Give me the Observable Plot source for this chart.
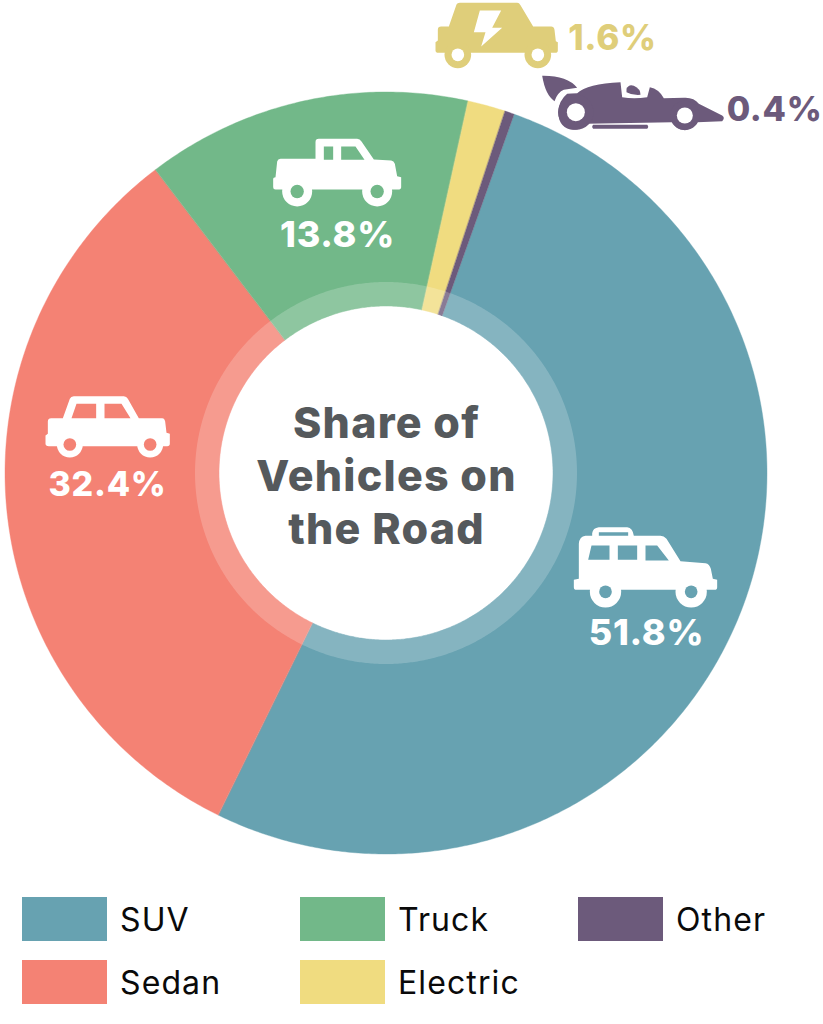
<!DOCTYPE html>
<html>
<head>
<meta charset="utf-8">
<script src="https://cdn.jsdelivr.net/npm/d3@7"></script>
<script src="https://cdn.jsdelivr.net/npm/@observablehq/plot@0.6"></script>
<style>
  html, body { margin: 0; background: #fff; }
  #chart svg { display: block; }
  .title text { letter-spacing: 1.2px; }
  .pct text { letter-spacing: 0.7px; }
  #legend { display: grid; grid-template-columns: repeat(3, 278px); grid-auto-rows: 63px; padding: 17px 0 0 22px; font: 400 32px Inter, sans-serif; color: #0a0a0a; letter-spacing: 1.1px; }
  .item { display: flex; align-items: flex-start; }
  .sw { width: 85px; height: 44px; margin-right: 13px; flex: none; }
  .item span { line-height: 46px; }
</style>
</head>
<body>
<div id="chart"></div>
<div id="legend"></div>
<script>
// ---- data ----
const categories = ["SUV", "Sedan", "Truck", "Electric", "Other"];
const shares = [51.8, 32.4, 13.8, 1.6, 0.4];
const colors = ["#67a2b1", "#f48274", "#72b889", "#f0dc80", "#6c5a7b"];
const titleLines = ["Share of", "Vehicles on", "the Road"];
const legendOrder = ["SUV", "Truck", "Other", "Sedan", "Electric"];

// ---- layout (pixel frame of the picture) ----
const W = 823, H = 880;
const cx = 386, cy = 473, R = 381, ringR = 191, holeR = 167, startDeg = 19.65;
const px = (x) => (x - cx) / R;
const py = (y) => (cy - y) / R;

// ---- icons ----
const wrap = (vb, w, h, body) =>
  "data:image/svg+xml," + encodeURIComponent(`<svg xmlns="http://www.w3.org/2000/svg" width="${w}" height="${h}" viewBox="${vb}">${body}</svg>`);
const wheel = (x, y, r, hole, f, bg) => `<circle cx="${x}" cy="${y}" r="${r}" fill="${f}"/><circle cx="${x}" cy="${y}" r="${hole}" fill="${bg}"/>`;
const pathOf = (d, f) => `<path d="${d}" fill="${f}"/>`;

const truckIcon = (bg) => wrap("0 0 450 390", 150, 130,
  pathOf("M45 155L50 108Q52 100 60 100L165 100L165 50Q165 40 175 40L290 40Q298 40 303 48L340 102L392 105Q400 106 403 115L410 152L422 155L422 185Q422 192 412 192L45 192Q38 192 38 185L38 160Q38 156 45 155Z", "#fff")
  + pathOf("M190 63H218V103H190ZM242 63H285L312 103H242Z", bg)
  + wheel(110, 198, 45, 20, "#fff", bg) + wheel(350, 198, 45, 20, "#fff", bg));

const sedanIcon = (bg) => wrap("0 0 450 360", 150, 120,
  pathOf("M52 145L52 108Q52 98 62 98L97 98L118 40Q121 32 130 32L280 32Q288 32 292 40L325 98L395 98Q402 98 404 108L408 142L418 145L418 175Q418 182 410 182L55 182Q45 182 45 175L45 150Z", "#fff")
  + pathOf("M138 55H197V98H123ZM222 55H273L300 98H222Z", bg)
  + wheel(118, 177, 39, 19, "#fff", bg) + wheel(359, 177, 39, 19, "#fff", bg));

const suvIcon = (bg) => wrap("0 0 480 405", 160, 135,
  pathOf("M40 175L40 70Q42 48 60 46L80 46L80 38Q82 22 100 20L185 20Q202 22 205 46L285 46Q295 46 303 55L345 122L420 128Q432 130 436 145L442 175L455 178L455 200Q455 208 447 208L33 208Q25 208 25 200L25 178Z", "#fff")
  + pathOf("M100 35H188V46H100ZM78 75H132V118H68ZM157 75H215V118H157ZM240 75H275L310 120H240Z", bg)
  + wheel(120, 214, 47, 19, "#fff", bg) + wheel(377, 214, 47, 19, "#fff", bg));

const electricIcon = (fg) => wrap("0 0 420 210", 140, 70,
  pathOf("M52 120L52 88Q52 78 62 78L85 78L108 12Q110 7 118 7L290 7Q296 7 300 14L338 78L392 78Q400 78 402 88L406 122L412 125L412 150Q412 157 404 157L50 157Q45 155 45 150L45 125Z", fg)
  + pathOf("M178 30H242L215 82H245L182 138L195 95H160Z", "#fff")
  + wheel(112, 163, 40, 19, fg, "#fff") + wheel(352, 163, 40, 19, fg, "#fff"));

const raceIcon = (fg) => wrap("345 210 600 195", 200, 65,
  pathOf("M365 226Q440 225 470 262L430 268Q412 275 402 302Q375 285 365 226Z", fg)
  + pathOf("M440 280Q450 278 470 278Q500 250 600 245L605 290Q640 296 680 290L688 260Q715 265 730 293L790 292Q820 290 835 310L905 345Q915 352 905 362L830 365Q810 390 790 388Q770 388 755 365L500 370Q480 388 460 388Q415 385 413 335Q415 300 440 280Z", fg)
  + pathOf("M618 265Q625 250 640 256Q660 265 660 283Q635 285 618 275Z", fg)
  + pathOf("M518 373H680Q686 379 680 385H518Q512 379 518 373Z", fg)
  + wheel(466, 335, 53, 27, fg, "#fff") + wheel(793, 345, 44, 24, fg, "#fff"));

const iconTable = [
  {name: "SUV", src: suvIcon(colors[0]), x: 645, y: 587.5, w: 160, h: 135},
  {name: "Sedan", src: sedanIcon(colors[1]), x: 105, y: 445, w: 150, h: 120},
  {name: "Truck", src: truckIcon(colors[2]), x: 335, y: 190, w: 150, h: 130},
  {name: "Electric", src: electricIcon("#dfce7a"), x: 490, y: 35, w: 140, h: 70},
  {name: "Other", src: raceIcon("#6c5a7b"), x: 635, y: 102.5, w: 200, h: 65}
];
const labelPlaces = {
  SUV: [646, 633, "#fff", 36], Sedan: [107, 485, "#fff", 34], Truck: [337, 235, "#fff", 36],
  Electric: [612, 38, "#dfce7a", 35], Other: [774, 110, "#6c5a7b", 34]
};

// ---- geometry built from the shares ----
const rad = (d) => d * Math.PI / 180;
const sectorPts = [];
let a0 = startDeg;
categories.forEach((cat, i) => {
  const a1 = a0 + shares[i] * 3.6;
  const n = Math.max(4, Math.ceil((a1 - a0) * 2));
  d3.range(n + 1).forEach((k) => {
    const a = rad(a0 + (a1 - a0) * k / n);
    sectorPts.push({cat, s: Math.sin(a), c: Math.cos(a)});
  });
  a0 = a1;
});
const ringPts = d3.range(721).map((k) => ({s: Math.sin(rad(k / 2)), c: Math.cos(rad(k / 2))}));
const labels = categories.map((c, i) => ({text: shares[i].toFixed(1) + "%", x: px(labelPlaces[c][0]), y: py(labelPlaces[c][1]), fill: labelPlaces[c][2], size: labelPlaces[c][3]}));
const titleData = titleLines.map((t, i) => ({t, x: px(cx), y: py(424 + i * 53)}));
const holeFrac = holeR / R, ringFrac = ringR / R;

const plot = Plot.plot({
  width: W, height: H, margin: 0,
  x: {domain: [-1, 1], range: [cx - R, cx + R], axis: null},
  y: {domain: [-1, 1], range: [cy + R, cy - R], axis: null},
  color: {domain: categories, range: colors},
  marks: [
    Plot.area(sectorPts, {
      x1: (d) => d.s, y1: (d) => d.c,
      x2: (d) => d.s * holeFrac, y2: (d) => d.c * holeFrac,
      z: "cat", fill: "cat", stroke: "cat", strokeWidth: 0.4
    }),
    Plot.area(ringPts, {
      x1: (d) => d.s * ringFrac, y1: (d) => d.c * ringFrac,
      x2: (d) => d.s * holeFrac, y2: (d) => d.c * holeFrac,
      fill: "#fff", fillOpacity: 0.2
    }),
    Plot.image(iconTable, {
      x: (d) => px(d.x), y: (d) => py(d.y), src: "src", width: "w", height: "h"
    }),
    Plot.text(labels, {
      x: "x", y: "y", text: "text", fill: (d) => d.fill, className: "pct",
      fontFamily: "Inter, sans-serif", fontWeight: 800, fontSize: (d) => d.size, textAnchor: "middle"
    }),
    Plot.text(titleData, {
      x: "x", y: "y", text: "t", fill: "#55595c", className: "title",
      fontFamily: "Inter, sans-serif", fontWeight: 800, fontSize: 43, textAnchor: "middle"
    })
  ]
});
document.getElementById("chart").append(plot);

const legend = d3.select("#legend");
legendOrder.forEach((name) => {
  const item = legend.append("div").attr("class", "item");
  item.append("div").attr("class", "sw").style("background", colors[categories.indexOf(name)]);
  item.append("span").text(name);
});
</script>
</body>
</html>
